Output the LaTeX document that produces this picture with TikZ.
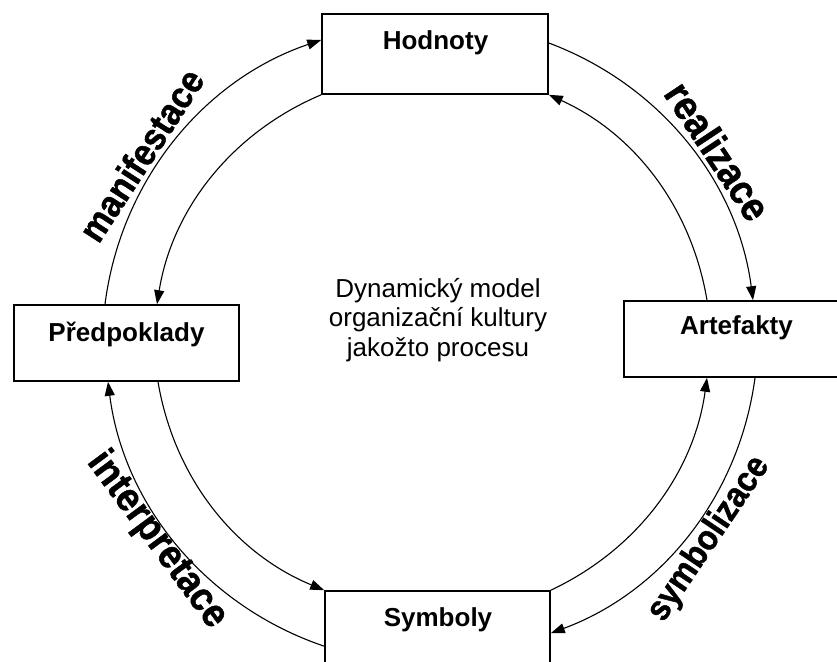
\documentclass[tikz,border=0pt]{standalone}
\usepackage{fontspec}
\setmainfont{Liberation Sans}
\newfontfamily\heavyfont{Liberation Sans}[FakeBold=1.2]
\usetikzlibrary{arrows.meta}
\begin{document}
\begin{tikzpicture}[x=1pt,y=1pt,
  boxst/.style={draw, line width=1.6pt, inner sep=0pt},
  boxlbl/.style={font=\bfseries\fontsize{26}{30}\selectfont, inner sep=0pt, anchor=base},
  arclbl/.style={inner sep=0pt, yscale=1.1},
  conn/.style={line width=1.1pt, -{Triangle[length=14pt,width=10pt]}}
]
\useasboundingbox (0,0) rectangle (837,661);
\clip (0,0) rectangle (837,661);

% boxes
\node[boxst, minimum width=226pt, minimum height=80pt] (hod) at (435,607) {};
\node[boxst, minimum width=225pt, minimum height=76pt] (pred) at (126.5,318) {};
\node[boxst, minimum width=225pt, minimum height=76pt] (art) at (736.5,322) {};
\node[boxst, minimum width=225pt, minimum height=80pt] (sym) at (437.5,30) {};

% box texts
\node[boxlbl] (hodt) at (435.5,611) {Hodnoty};
\node[boxlbl] (predt) at (126.5,319) {Předpoklady};
\node[boxlbl] (artt) at (736.5,326) {Artefakty};
\node[boxlbl] (symt) at (438,35) {Symboly};

% centre text
\node[align=center, inner sep=0pt, font=\fontsize{26}{29.5}\selectfont] (title) at (438,341)
  {Dynamický model\\organizační kultury\\jakožto procesu};

% outer arcs (clockwise)
\draw[conn] ([xshift=-21.5pt]pred.north) to[bend left=32, looseness=0.93] ([yshift=14pt]hod.west);
\draw[conn] ([yshift=11pt]hod.east) to[bend left=31, looseness=0.93] ([xshift=16.5pt]art.north);
\draw[conn] ([xshift=18.5pt]art.south) to[bend left=31, looseness=0.93] ([yshift=-43pt]sym.north east);
\draw[conn] ([yshift=-56pt]sym.north west) to[bend left=32, looseness=0.93] ([xshift=-18.5pt]pred.south);

% inner arcs (counter-clockwise)
\draw[conn] (hod.south west) to[bend right=29, looseness=0.93] ([xshift=30.5pt]pred.north);
\draw[conn] ([xshift=31.5pt]pred.south) to[bend right=29, looseness=0.93] (sym.north west);
\draw[conn] (sym.north east) to[bend right=28.5, looseness=0.93] ([xshift=-29.5pt]art.south);
\draw[conn] ([xshift=-29.5pt]art.north) to[bend right=28, looseness=0.93] (hod.south east);

% arc labels
\node[rotate=57, arclbl, font=\heavyfont\bfseries\fontsize{34}{36}\selectfont] (manif) at (141,506) {manifestace};
\node[rotate=-56.5, arclbl, font=\heavyfont\bfseries\fontsize{37}{40}\selectfont] (real) at (718,510) {realizace};
\node[rotate=-53.5, arclbl, font=\heavyfont\bfseries\fontsize{36.5}{40}\selectfont] (interp) at (157,121) {interpretace};
\node[rotate=56, arclbl, font=\heavyfont\bfseries\fontsize{32}{34}\selectfont] (symb) at (709,122) {symbolizace};
\end{tikzpicture}
\end{document}
